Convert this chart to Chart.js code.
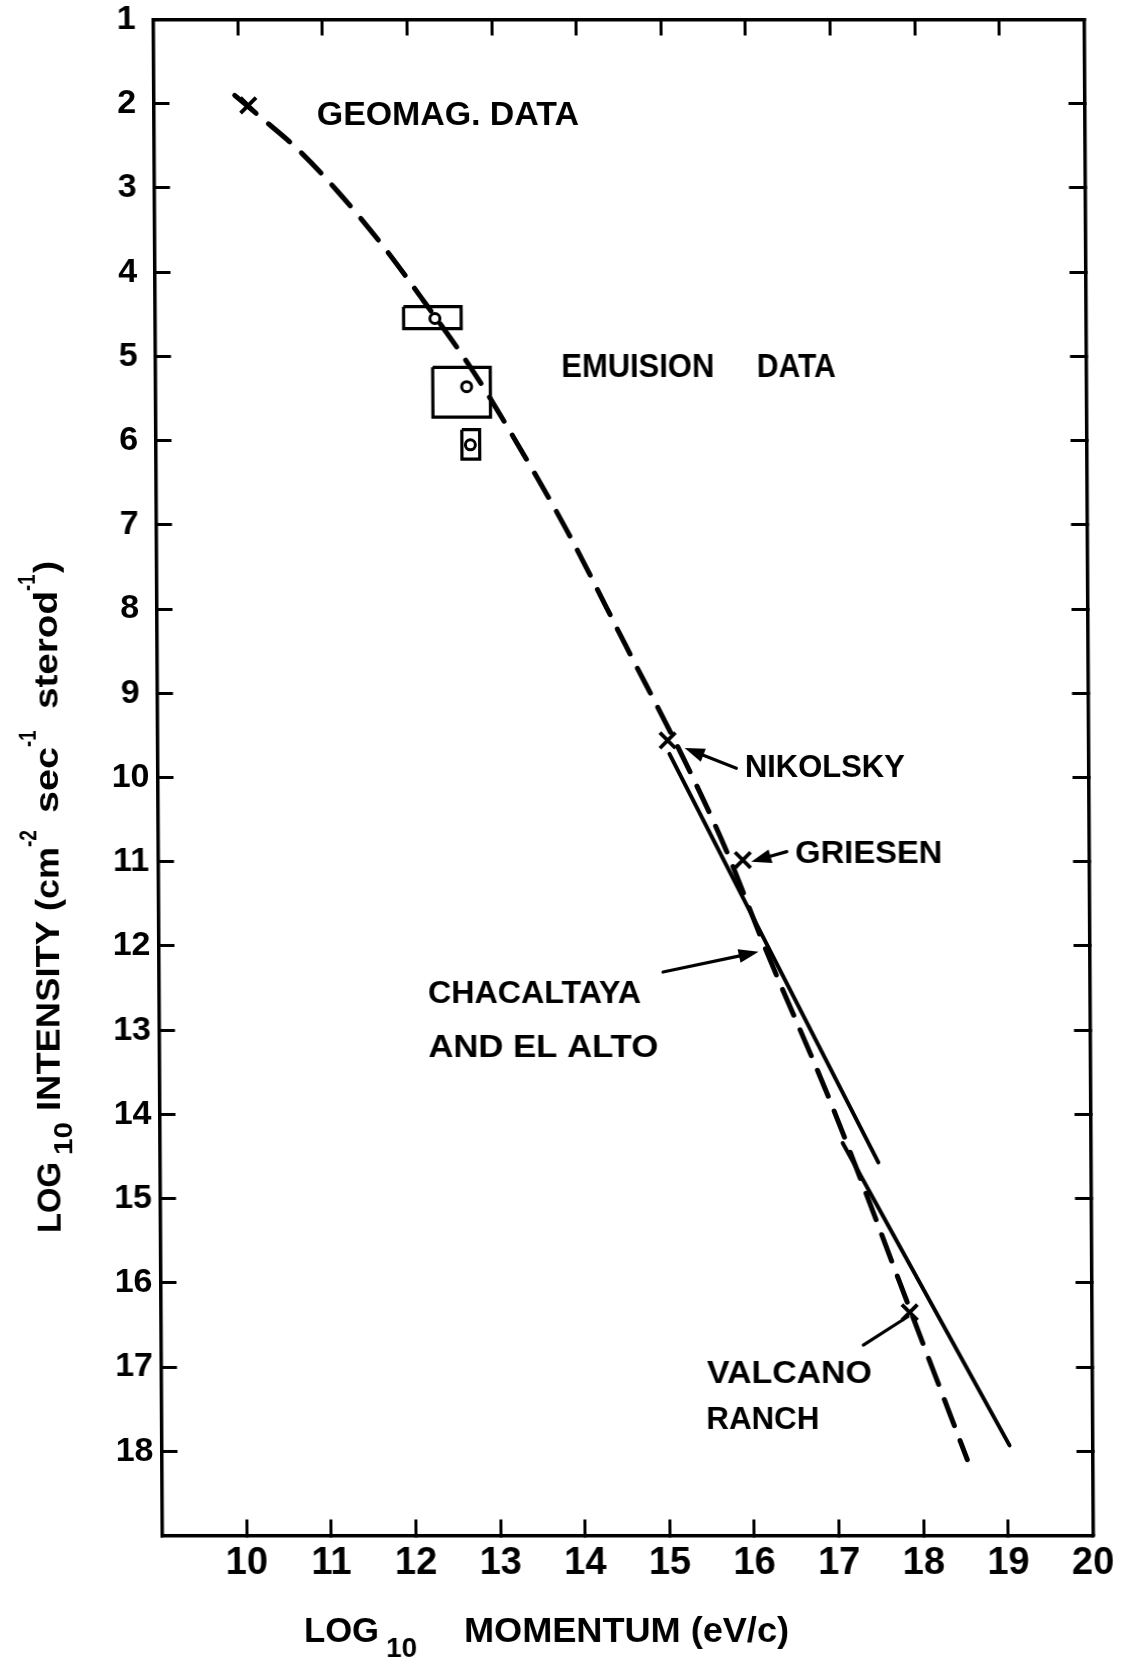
<!DOCTYPE html>
<html>
<head>
<meta charset="utf-8">
<script src="https://cdn.jsdelivr.net/npm/chart.js@4.4.1/dist/chart.umd.min.js"></script>
<style>
  html, body { margin: 0; padding: 0; background: #ffffff; }
  #wrap { width: 1128px; height: 1659px; position: relative; overflow: hidden; background: #fff; }
  #c { display: block; transform-origin: 0 777.5px; transform: skewX(0.34deg); }
</style>
</head>
<body>
<div id="wrap"><canvas id="c" width="1128" height="1659"></canvas></div>
<script>
// ---------------- data ----------------
const xTickValues = [10, 11, 12, 13, 14, 15, 16, 17, 18, 19, 20];
const xTickLabels = ['10', '11', '12', '13', '14', '15', '16', '17', '18', '19', '20'];
const yTickValues = [1, 2, 3, 4, 5, 6, 7, 8, 9, 10, 11, 12, 13, 14, 15, 16, 17, 18];
const yTickLabels = ['1', '2', '3', '4', '5', '6', '7', '8', '9', '10', '11', '12', '13', '14', '15', '16', '17', '18'];

// long-dashed spectrum curve
const dashX = [9.96, 10.30, 10.69, 11.16, 11.71, 12.17, 12.76, 13.23, 13.85, 14.55, 15.21, 15.70, 16.19, 16.92, 17.87, 18.52];
const dashY = [1.90, 2.19, 2.53, 3.03, 3.70, 4.33, 5.18, 5.96, 7.06, 8.45, 9.76, 10.83, 12.08, 13.83, 16.36, 18.10];
// Chacaltaya and El Alto (solid)
const chacX = [15.05, 17.49];
const chacY = [9.72, 14.57];
// Volcano Ranch (solid)
const valcX = [17.07, 19.02];
const valcY = [14.34, 17.93];
// X-marked points: geomag, Nikolsky, Griesen, Volcano Ranch
const crossX = [10.12, 15.03, 15.91, 17.85];
const crossY = [2.02, 9.56, 10.98, 16.35];
// emulsion data: circles and their boxes
const circX = [12.31, 12.68, 12.72];
const circY = [4.55, 5.36, 6.05];
const boxXlo = [11.94, 12.28, 12.62];
const boxXhi = [12.62, 12.96, 12.83];
const boxYlo = [4.41, 5.13, 5.87];
const boxYhi = [4.67, 5.72, 6.22];

// ---------------- helpers ----------------
const FONT = "'Liberation Sans', Arial, sans-serif";
const pts = (xs, ys) => xs.map((x, i) => ({ x: x, y: ys[i] }));

const boxDatasets = boxXlo.map((x0, i) => ({
  type: 'line',
  data: [
    { x: x0, y: boxYlo[i] }, { x: boxXhi[i], y: boxYlo[i] },
    { x: boxXhi[i], y: boxYhi[i] }, { x: x0, y: boxYhi[i] }, { x: x0, y: boxYlo[i] }
  ],
  borderColor: '#000', borderWidth: 3.2, pointRadius: 0, tension: 0,
  borderJoinStyle: 'miter', fill: false, parsing: false
}));

function drawFitText(ctx, text, x, y, size, width) {
  ctx.font = 'bold ' + size + 'px ' + FONT;
  const w = ctx.measureText(text).width;
  let s = width ? width / w : 1;
  s = Math.max(0.8, Math.min(1.25, s));
  ctx.save();
  ctx.translate(x, y);
  ctx.scale(s, 1);
  ctx.textAlign = 'left';
  ctx.textBaseline = 'alphabetic';
  ctx.fillStyle = '#000';
  ctx.fillText(text, 0, 0);
  ctx.restore();
}

// annotation texts (anchored in data units: left end of baseline)
const annoLabels = [
  { text: 'GEOMAG. DATA', x: 10.93, y: 2.25, size: 33, width: 262 },
  { text: 'EMUISION', x: 13.80, y: 5.24, size: 33, width: 153 },
  { text: 'DATA', x: 16.11, y: 5.24, size: 33, width: 79 },
  { text: 'NIKOLSKY', x: 15.94, y: 9.99, size: 32, width: 160 },
  { text: 'GRIESEN', x: 16.53, y: 11.02, size: 32, width: 147 },
  { text: 'CHACALTAYA', x: 12.18, y: 12.68, size: 32, width: 213 },
  { text: 'AND EL ALTO', x: 12.18, y: 13.32, size: 32, width: 230 },
  { text: 'VALCANO', x: 15.45, y: 17.19, size: 32, width: 165 },
  { text: 'RANCH', x: 15.44, y: 17.73, size: 32, width: 113 }
];
const annoArrows = [
  { fx: 15.84, fy: 9.89, tx: 15.23, ty: 9.65, head: true },
  { fx: 16.43, fy: 10.88, tx: 16.01, ty: 11.00, head: true },
  { fx: 14.96, fy: 12.31, tx: 16.09, ty: 12.07, head: true },
  { fx: 17.30, fy: 16.74, tx: 17.83, ty: 16.40, head: false }
];

const annotationPlugin = {
  id: 'annotations',
  afterDatasetsDraw(chart) {
    const ctx = chart.ctx;
    const xs = chart.scales.x, ys = chart.scales.y;
    ctx.save();
    annoLabels.forEach(l => {
      drawFitText(ctx, l.text, xs.getPixelForValue(l.x), ys.getPixelForValue(l.y), l.size, l.width);
    });
    annoArrows.forEach(a => {
      const x1 = xs.getPixelForValue(a.fx), y1 = ys.getPixelForValue(a.fy);
      const x2 = xs.getPixelForValue(a.tx), y2 = ys.getPixelForValue(a.ty);
      const ang = Math.atan2(y2 - y1, x2 - x1);
      const hl = 20, hw = 7;
      const ex = a.head ? x2 - Math.cos(ang) * (hl - 2) : x2;
      const ey = a.head ? y2 - Math.sin(ang) * (hl - 2) : y2;
      ctx.strokeStyle = '#000';
      ctx.lineWidth = 3.2;
      ctx.lineCap = 'round';
      ctx.beginPath(); ctx.moveTo(x1, y1); ctx.lineTo(ex, ey); ctx.stroke();
      if (a.head) {
        ctx.fillStyle = '#000';
        ctx.beginPath();
        ctx.moveTo(x2, y2);
        ctx.lineTo(x2 - Math.cos(ang) * hl - Math.sin(ang) * hw, y2 - Math.sin(ang) * hl + Math.cos(ang) * hw);
        ctx.lineTo(x2 - Math.cos(ang) * hl + Math.sin(ang) * hw, y2 - Math.sin(ang) * hl - Math.cos(ang) * hw);
        ctx.closePath(); ctx.fill();
      }
    });
    ctx.restore();
  },
  afterDraw(chart) {
    const ctx = chart.ctx;
    ctx.save();
    // x-axis title
    drawFitText(ctx, 'LOG', 299, 1642, 35, 75);
    drawFitText(ctx, '10', 381, 1657, 27, 31);
    drawFitText(ctx, 'MOMENTUM (eV/c)', 459, 1642, 35, 325);
    // y-axis title (rotated, reading upward)
    ctx.translate(58, 1233);
    ctx.rotate(-Math.PI / 2);
    const pieces = [
      { t: 'LOG', at: 0, w: 71, s: 34, dy: 0 },
      { t: '10', at: 78, w: 33, s: 25, dy: 12 },
      { t: 'INTENSITY', at: 122, w: 190, s: 34, dy: 0 },
      { t: '(cm', at: 322, w: 64, s: 34, dy: 0 },
      { t: '-2', at: 386, w: 17, s: 23, dy: -22 },
      { t: 'sec', at: 420, w: 66, s: 34, dy: 0 },
      { t: '-1', at: 486, w: 16, s: 23, dy: -22 },
      { t: 'sterod', at: 524, w: 118, s: 34, dy: 0 },
      { t: '-1', at: 642, w: 16, s: 23, dy: -22 },
      { t: ')', at: 660, w: 12, s: 34, dy: 0 }
    ];
    pieces.forEach(p => drawFitText(ctx, p.t, p.at, p.dy, p.s, p.w));
    ctx.restore();
  }
};

const tickGrid = { drawOnChartArea: false, drawTicks: true, tickLength: -16, tickWidth: 3, tickColor: '#000' };
const axisBorder = { display: true, color: '#000', width: 3.5 };
const zeroPad = s => { s.paddingTop = 0; s.paddingBottom = 0; s.paddingLeft = 0; s.paddingRight = 0; };

new Chart(document.getElementById('c'), {
  type: 'scatter',
  data: {
    datasets: [
      ...boxDatasets,
      {
        type: 'line', data: pts(dashX, dashY), borderColor: '#000', borderWidth: 5,
        borderDash: [28, 16], borderCapStyle: 'round', pointRadius: 0,
        cubicInterpolationMode: 'monotone', fill: false
      },
      {
        type: 'line', data: pts(chacX, chacY), borderColor: '#000', borderWidth: 4,
        borderCapStyle: 'round', pointRadius: 0, fill: false
      },
      {
        type: 'line', data: pts(valcX, valcY), borderColor: '#000', borderWidth: 4,
        borderCapStyle: 'round', pointRadius: 0, fill: false
      },
      {
        type: 'scatter', data: pts(crossX, crossY), pointStyle: 'crossRot',
        pointRadius: 11, borderWidth: 3.8, borderColor: '#000', backgroundColor: '#000'
      },
      {
        type: 'scatter', data: pts(circX, circY), pointStyle: 'circle',
        pointRadius: 5, borderWidth: 3, borderColor: '#000', backgroundColor: '#fff'
      }
    ]
  },
  options: {
    responsive: false,
    animation: false,
    devicePixelRatio: 1,
    events: [],
    layout: { padding: 0 },
    plugins: { legend: { display: false }, tooltip: { enabled: false }, title: { display: false } },
    scales: {
      x: {
        type: 'linear', position: 'bottom', min: 9, max: 20,
        ticks: {
          stepSize: 1, autoSkip: false, maxRotation: 0, minRotation: 0, padding: 21, color: '#000',
          font: { family: FONT, size: 38, weight: 'bold' },
          callback: v => { const i = xTickValues.indexOf(v); return i >= 0 ? xTickLabels[i] : ''; }
        },
        grid: tickGrid, border: axisBorder,
        afterFit: s => { s.height = 123.5; zeroPad(s); }
      },
      x2: {
        type: 'linear', position: 'top', min: 9, max: 20,
        ticks: { stepSize: 1, autoSkip: false, maxRotation: 0, callback: () => '' },
        grid: tickGrid, border: axisBorder,
        afterFit: s => { s.height = 19.5; zeroPad(s); }
      },
      y: {
        type: 'linear', position: 'left', min: 1, max: 19, reverse: true,
        ticks: {
          stepSize: 1, autoSkip: false, padding: 24, crossAlign: 'center', color: '#000',
          font: { family: FONT, size: 34, weight: 'bold' },
          callback: v => { const i = yTickValues.indexOf(v); return i >= 0 ? yTickLabels[i] : ''; }
        },
        grid: tickGrid, border: axisBorder,
        afterFit: s => { s.width = 157.5; zeroPad(s); }
      },
      y2: {
        type: 'linear', position: 'right', min: 1, max: 19, reverse: true,
        ticks: { stepSize: 1, autoSkip: false, callback: () => '' },
        grid: tickGrid, border: axisBorder,
        afterFit: s => { s.width = 39.5; zeroPad(s); }
      }
    }
  },
  plugins: [annotationPlugin]
});
</script>
</body>
</html>
